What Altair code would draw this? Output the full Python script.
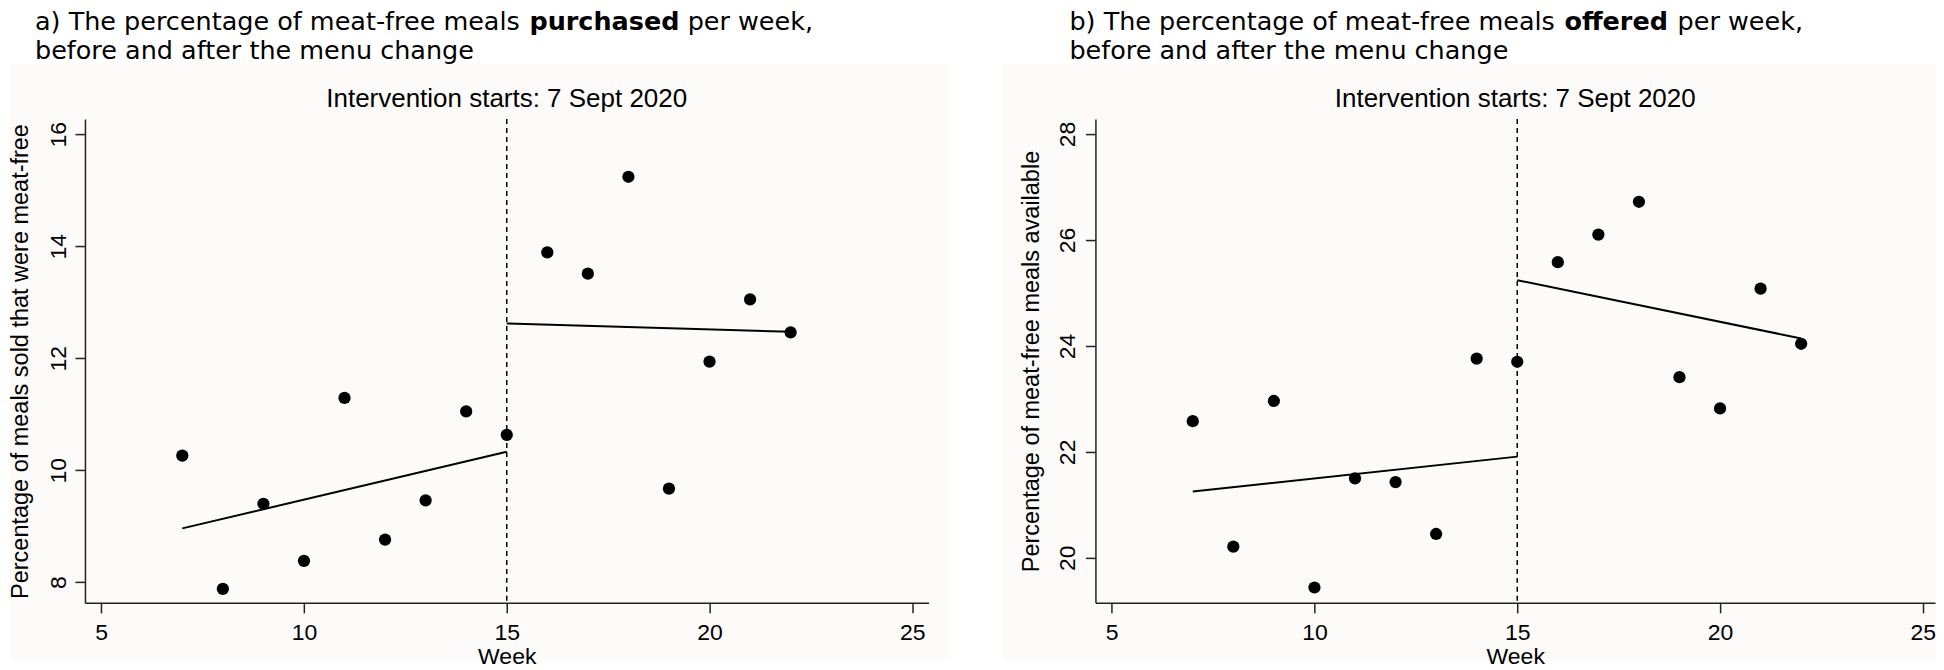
import altair as alt
import pandas as pd

# ---------------- data ----------------
weeks = list(range(7, 23))
purchased_pct = [10.26, 7.88, 9.40, 8.38, 11.29, 8.76, 9.46, 11.05,
                 10.63, 13.89, 13.51, 15.24, 9.67, 11.94, 13.05, 12.46]
offered_pct = [22.58, 20.21, 22.96, 19.44, 21.50, 21.43, 20.45, 23.76,
               23.70, 25.58, 26.10, 26.72, 23.41, 22.82, 25.08, 24.04]

fit_weeks = [7, 15, 15, 22]
fit_segment = ["before", "before", "after", "after"]
purchased_fit = [8.96, 10.33, 12.62, 12.47]
offered_fit = [21.25, 21.91, 25.24, 24.14]

intervention_week = [15]
intervention_label = ["Intervention starts: 7 Sept 2020"]

x_ticks = [5, 10, 15, 20, 25]
purchased_ticks = [8, 10, 12, 14, 16]
offered_ticks = [20, 22, 24, 26, 28]

title_a = ["a) The percentage of meat-free meals", "purchased", "per week,",
           "before and after the menu change"]
title_b = ["b) The percentage of meat-free meals", "offered", "per week,",
           "before and after the menu change"]

TITLE_FONT = "DejaVu Sans"
FONT = "Liberation Sans"
TITLE_SIZE = 25.5
PANEL_BG = "#fcfbf9"

# approximate DejaVu Sans advance widths (em) to place the bold word
DV = {' ': .318, 'a': .613, 'b': .635, ')': .390, 'T': .611, 'h': .634, 'e': .615,
      'p': .635, 'r': .411, 'c': .550, 'n': .634, 't': .392, 'g': .635, 'o': .612,
      'f': .352, 'm': .974, '-': .361, 'l': .278, 's': .521, 'w': .818, 'k': .579,
      ',': .318, 'u': .634, 'd': .635}
DVB = {'p': .716, 'u': .712, 'r': .493, 'c': .593, 'h': .712, 'a': .675, 's': .595,
       'e': .678, 'd': .716, 'o': .687, 'f': .435}


def tw(s, table):
    return sum(table.get(ch, .6) for ch in s) * TITLE_SIZE


PLOT_H = 484
SPACE = DV[' '] * TITLE_SIZE


def panel(values, fit, ytitle, ydomain, yticks, xmax, width, title_parts, title_x,
          label_pad, bg_x, bg_x2):
    pts = pd.DataFrame({"week": weeks, "pct": values})
    fitdf = pd.DataFrame({"week": fit_weeks, "pct": fit, "segment": fit_segment})

    x = alt.X("week:Q",
              scale=alt.Scale(domain=[4.6, xmax], nice=False, zero=False),
              axis=alt.Axis(values=x_ticks, title="Week", grid=False, format="d", zindex=1,
                            labelFont=FONT, labelFontSize=23, labelColor="black",
                            labelPadding=9, tickSize=10, tickWidth=1.5, tickColor="#222",
                            domainColor="#222", domainWidth=1.5,
                            titleFont=FONT, titleFontSize=23, titleFontWeight="normal",
                            titleColor="black", titleBaseline="alphabetic",
                            titleY=61, titleX=width / 2, titleAlign="center"))
    y = alt.Y("pct:Q",
              scale=alt.Scale(domain=ydomain, nice=False, zero=False),
              axis=alt.Axis(values=yticks, title=ytitle, grid=False, format="d", zindex=1,
                            labelFont=FONT, labelFontSize=23, labelColor="black",
                            labelAngle=270, labelAlign="center", labelBaseline="alphabetic",
                            labelPadding=label_pad, tickSize=10, tickWidth=1.5, tickColor="#222",
                            domainColor="#222", domainWidth=1.5,
                            titleFont=FONT, titleFontSize=23.5, titleFontWeight="normal",
                            titleColor="black", titleAngle=270, titleAlign="center",
                            titleBaseline="alphabetic", titleX=-57, titleY=PLOT_H / 2))

    bg = alt.Chart(pd.DataFrame({"k": [0]})).mark_rect(color=PANEL_BG).encode(
        x=alt.value(bg_x), x2=alt.value(bg_x2), y=alt.value(-55), y2=alt.value(542))
    points = alt.Chart(pts).mark_circle(size=150, color="black", opacity=1).encode(x=x, y=y)
    fits = alt.Chart(fitdf).mark_line(color="black", strokeWidth=2).encode(
        x="week:Q", y="pct:Q", detail="segment:N")
    rule = alt.Chart(pd.DataFrame({"week": intervention_week})).mark_rule(
        color="black", strokeDash=[5, 4], strokeWidth=1.5).encode(x="week:Q")
    sub = alt.Chart(pd.DataFrame({"t": intervention_label})).mark_text(
        font=FONT, fontSize=26, align="center", baseline="alphabetic", color="black"
    ).encode(text="t:N", x=alt.value(width / 2), y=alt.value(-12))

    p1, p2, p3, line2 = title_parts
    w1 = tw(p1 + " ", DV)
    w2 = tw(p2, DVB)
    tdf = pd.DataFrame({
        "t": [p1, p2, p3, line2],
        "dx": [title_x, title_x + w1, title_x + w1 + w2 + SPACE, title_x],
        "dy": [-89, -89, -89, -60.5],
        "w": ["normal", "bold", "normal", "normal"],
    })
    tnorm = alt.Chart(tdf).transform_filter("datum.w == 'normal'").mark_text(
        font=TITLE_FONT, fontSize=TITLE_SIZE, align="left", baseline="alphabetic", color="black"
    ).encode(text="t:N", x=alt.X("dx:Q", scale=None), y=alt.Y("dy:Q", scale=None))
    tbold = alt.Chart(tdf).transform_filter("datum.w == 'bold'").mark_text(
        font=TITLE_FONT, fontSize=TITLE_SIZE, fontWeight="bold", align="left",
        baseline="alphabetic", color="black"
    ).encode(text="t:N", x=alt.X("dx:Q", scale=None), y=alt.Y("dy:Q", scale=None))

    return alt.layer(bg, rule, fits, points, sub, tnorm, tbold).properties(
        width=width, height=PLOT_H)


left = panel(purchased_pct, purchased_fit, "Percentage of meals sold that were meat-free",
             [7.63, 16.27], purchased_ticks, 25.4, 844, title_a, -50, 9, -75, 867)
right = panel(offered_pct, offered_fit, "Percentage of meat-free meals available",
              [19.15, 28.28], offered_ticks, 25.3, 840, title_b, -26, 11, -94, 841)

chart = alt.hconcat(left, right, spacing=167, bounds="flush").resolve_scale(
    x="independent", y="independent"
).properties(padding={"left": 0, "top": 2, "right": 0, "bottom": 0},
             background="white").configure_view(stroke=None)

chart.save("out.html", embed_options={"renderer": "svg", "actions": False})
